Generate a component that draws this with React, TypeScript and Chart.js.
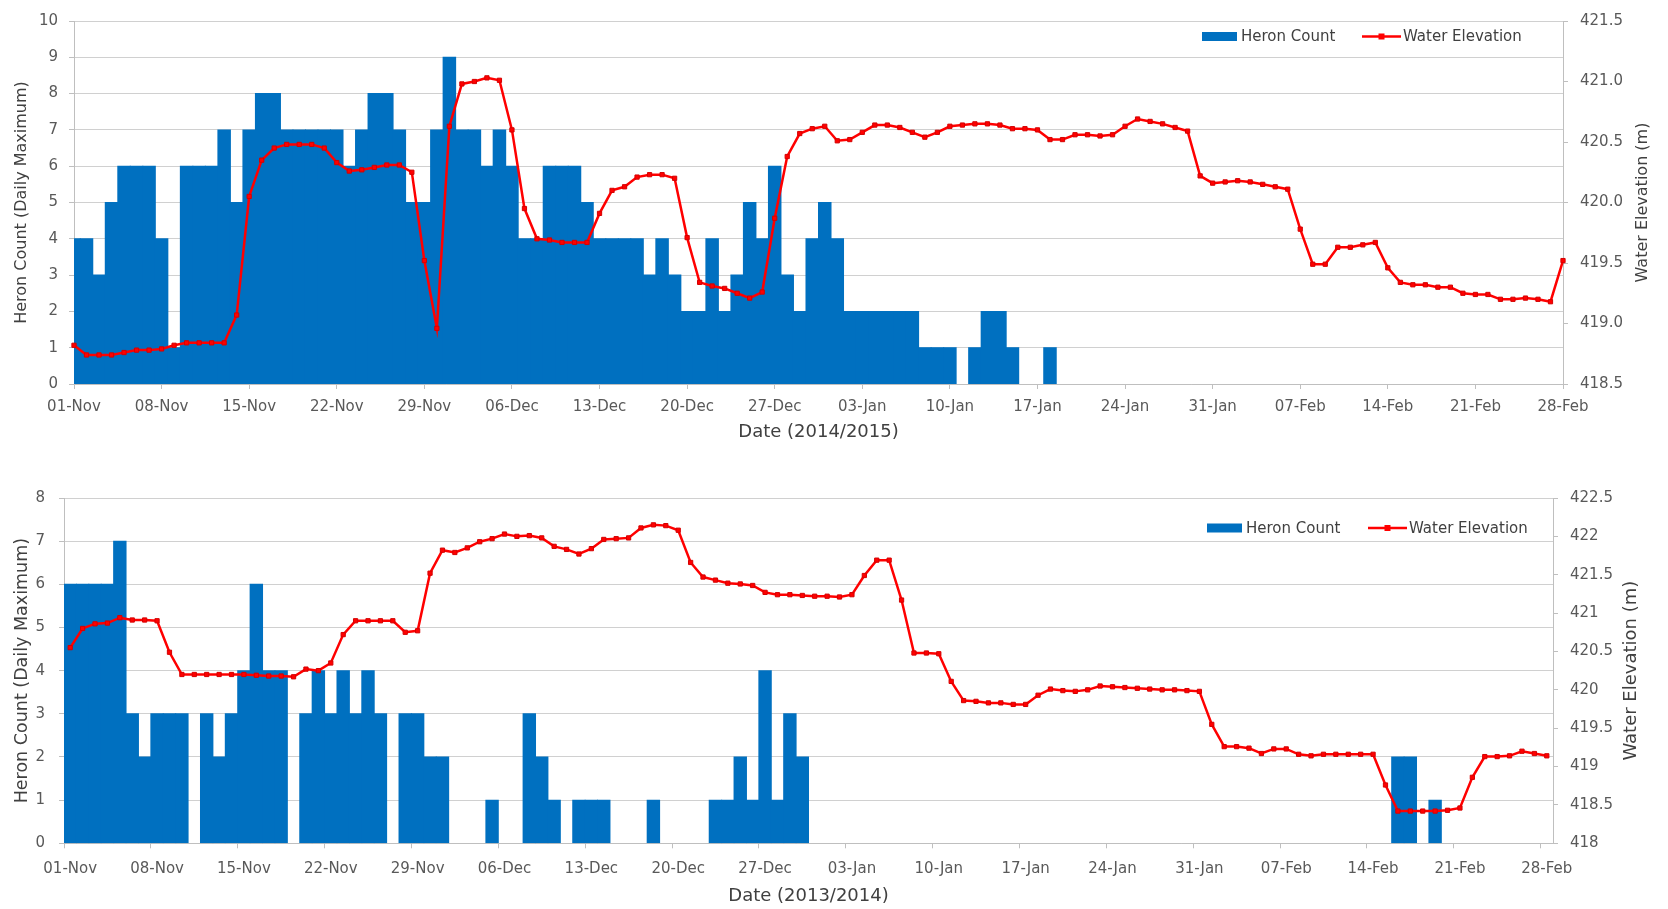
import React, { useEffect, useRef } from 'react';
import { Chart, registerables } from 'chart.js';

Chart.register(...registerables);

// ---------- DATA ----------
const monthNames = ['Nov', 'Dec', 'Jan', 'Feb'];
const monthLengths = [30, 31, 31, 28];
const dayLabels: string[] = [];
monthNames.forEach((m, mi) => {
  for (let d = 1; d <= monthLengths[mi]; d++) dayLabels.push(String(d).padStart(2, '0') + '-' + m);
});

// 2014/2015 season (top panel)
const heron2014: number[] = [
  4, 4, 3, 5, 6, 6, 6, 4, 1, 6,
  6, 6, 7, 5, 7, 8, 8, 7, 7, 7,
  7, 7, 6, 7, 8, 8, 7, 5, 5, 7,
  9, 7, 7, 6, 7, 6, 4, 4, 6, 6,
  6, 5, 4, 4, 4, 4, 3, 4, 3, 2,
  2, 4, 2, 3, 5, 4, 6, 3, 2, 4,
  5, 4, 2, 2, 2, 2, 2, 2, 1, 1,
  1, 0, 1, 2, 2, 1, 0, 0, 1, 0,
  0, 0, 0, 0, 0, 0, 0, 0, 0, 0,
  0, 0, 0, 0, 0, 0, 0, 0, 0, 0,
  0, 0, 0, 0, 0, 0, 0, 0, 0, 0,
  0, 0, 0, 0, 0, 0, 0, 0, 0, 0,
];
const elev2014: number[] = [
  418.82, 418.74, 418.74, 418.74, 418.76, 418.78, 418.78, 418.79, 418.82, 418.84,
  418.84, 418.84, 418.84, 419.07, 420.05, 420.35, 420.45, 420.48, 420.48, 420.48,
  420.45, 420.33, 420.26, 420.27, 420.29, 420.31, 420.31, 420.25, 419.52, 418.96,
  420.63, 420.98, 421.0, 421.03, 421.01, 420.6, 419.95, 419.7, 419.69, 419.67,
  419.67, 419.67, 419.91, 420.1, 420.13, 420.21, 420.23, 420.23, 420.2, 419.71,
  419.34, 419.31, 419.29, 419.25, 419.21, 419.26, 419.87, 420.38, 420.57, 420.61,
  420.63, 420.51, 420.52, 420.58, 420.64, 420.64, 420.62, 420.58, 420.54, 420.58,
  420.63, 420.64, 420.65, 420.65, 420.64, 420.61, 420.61, 420.6, 420.52, 420.52,
  420.56, 420.56, 420.55, 420.56, 420.63, 420.69, 420.67, 420.65, 420.62, 420.59,
  420.22, 420.16, 420.17, 420.18, 420.17, 420.15, 420.13, 420.11, 419.78, 419.49,
  419.49, 419.63, 419.63, 419.65, 419.67, 419.46, 419.34, 419.32, 419.32, 419.3,
  419.3, 419.25, 419.24, 419.24, 419.2, 419.2, 419.21, 419.2, 419.18, 419.52,
];

// 2013/2014 season (bottom panel)
const heron2013: number[] = [
  6, 6, 6, 6, 7, 3, 2, 3, 3, 3,
  0, 3, 2, 3, 4, 6, 4, 4, 0, 3,
  4, 3, 4, 3, 4, 3, 0, 3, 3, 2,
  2, 0, 0, 0, 1, 0, 0, 3, 2, 1,
  0, 1, 1, 1, 0, 0, 0, 1, 0, 0,
  0, 0, 1, 1, 2, 1, 4, 1, 3, 2,
  0, 0, 0, 0, 0, 0, 0, 0, 0, 0,
  0, 0, 0, 0, 0, 0, 0, 0, 0, 0,
  0, 0, 0, 0, 0, 0, 0, 0, 0, 0,
  0, 0, 0, 0, 0, 0, 0, 0, 0, 0,
  0, 0, 0, 0, 0, 0, 0, 2, 2, 0,
  1, 0, 0, 0, 0, 0, 0, 0, 0, 0,
];
const elev2013: number[] = [
  420.55, 420.8, 420.86, 420.87, 420.94, 420.91, 420.91, 420.9, 420.49, 420.2,
  420.2, 420.2, 420.2, 420.2, 420.2, 420.19, 420.18, 420.18, 420.17, 420.27,
  420.25, 420.35, 420.72, 420.9, 420.9, 420.9, 420.9, 420.75, 420.77, 421.52,
  421.82, 421.79, 421.85, 421.93, 421.97, 422.03, 422.0, 422.01, 421.98, 421.87,
  421.83, 421.77, 421.84, 421.96, 421.97, 421.98, 422.11, 422.15, 422.14, 422.08,
  421.66, 421.47, 421.43, 421.39, 421.38, 421.36, 421.27, 421.24, 421.24, 421.23,
  421.22, 421.22, 421.21, 421.24, 421.49, 421.69, 421.69, 421.17, 420.48, 420.48,
  420.47, 420.11, 419.86, 419.85, 419.83, 419.83, 419.81, 419.81, 419.93, 420.01,
  419.99, 419.98, 420.0, 420.05, 420.04, 420.03, 420.02, 420.01, 420.0, 420.0,
  419.99, 419.98, 419.55, 419.26, 419.26, 419.24, 419.17, 419.23, 419.23, 419.16,
  419.14, 419.16, 419.16, 419.16, 419.16, 419.16, 418.76, 418.42, 418.42, 418.42,
  418.42, 418.43, 418.46, 418.86, 419.13, 419.13, 419.14, 419.2, 419.17, 419.14,
];

// ---------- STYLE ----------
const FONT = "'DejaVu Sans', 'Liberation Sans', sans-serif";
const BAR_COLOR = '#0070C0';
const LINE_COLOR = '#FF0000';
const GRID = '#d0d0d0';
const AXIS = '#bfbfbf';
const TICK_TEXT = '#595959';
const TITLE_TEXT = '#404040';
const RIGHT_TITLE = 'Water Elevation (m)';

// legend inside the plot area + right axis title reading bottom-to-top
const panelExtras = {
  id: 'panelExtras',
  afterDraw(chart: any, _args: any, opts: any) {
    const { ctx } = chart;
    const ds = chart.data.datasets;
    const barLabel = ds.find((d: any) => d.type === 'bar').label;
    const lineLabel = ds.find((d: any) => d.type === 'line').label;
    const { heronX, lineX, y, rightTitleX, rightTitleSize } = opts;
    ctx.save();
    ctx.font = `15px ${FONT}`;
    ctx.textBaseline = 'middle';
    ctx.textAlign = 'left';
    ctx.fillStyle = BAR_COLOR;
    ctx.fillRect(heronX, y - 4.5, 35, 9);
    ctx.fillStyle = TITLE_TEXT;
    ctx.fillText(barLabel, heronX + 39, y + 1);
    ctx.strokeStyle = LINE_COLOR;
    ctx.lineWidth = 2.5;
    ctx.beginPath();
    ctx.moveTo(lineX, y);
    ctx.lineTo(lineX + 39, y);
    ctx.stroke();
    ctx.fillStyle = LINE_COLOR;
    ctx.fillRect(lineX + 16.5, y - 3, 6, 6);
    ctx.fillStyle = TITLE_TEXT;
    ctx.fillText(lineLabel, lineX + 41, y + 1);

    const area = chart.chartArea;
    ctx.translate(rightTitleX, (area.top + area.bottom) / 2);
    ctx.rotate(-Math.PI / 2);
    ctx.font = `${rightTitleSize}px ${FONT}`;
    ctx.textAlign = 'center';
    ctx.fillStyle = TITLE_TEXT;
    ctx.fillText(RIGHT_TITLE, 0, 0);
    ctx.restore();
  },
};

type PanelSpec = {
  heron: number[];
  elev: number[];
  xTitle: string;
  offset: boolean;
  leftMax: number;
  rightMin: number;
  rightMax: number;
  rightFmt: (v: number) => string;
  padTop: number;
  leftWidth: number;
  rightWidth: number;
  xHeight: number;
  xTickPad: number;
  yTickPad: number;
  leftTitleSize: number;
  leftTitlePad: number;
  xTitlePad: number;
  extras: { heronX: number; lineX: number; y: number; rightTitleX: number; rightTitleSize: number };
};

function makeConfig(p: PanelSpec): any {
  return {
    type: 'bar',
    data: {
      labels: dayLabels,
      datasets: [
        {
          type: 'line',
          label: 'Water Elevation',
          data: p.elev,
          yAxisID: 'y1',
          borderColor: LINE_COLOR,
          backgroundColor: LINE_COLOR,
          borderWidth: 2.5,
          pointStyle: 'rect',
          pointRadius: 3,
          pointBorderWidth: 1,
          pointBackgroundColor: LINE_COLOR,
          pointBorderColor: '#d40000',
          tension: 0,
          order: 0,
          clip: false,
        },
        {
          type: 'bar',
          label: 'Heron Count',
          data: p.heron,
          yAxisID: 'y',
          backgroundColor: (c: any) => (c.raw ? BAR_COLOR : 'rgba(0,0,0,0)'),
          borderWidth: 0,
          barPercentage: 1,
          categoryPercentage: 1,
          inflateAmount: (c: any) => (c.raw ? 0.5 : 0),
          order: 1,
        },
      ],
    },
    options: {
      responsive: false,
      animation: false,
      devicePixelRatio: 1,
      layout: { padding: { top: p.padTop, left: 0, right: 0, bottom: 0 } },
      plugins: {
        legend: { display: false },
        tooltip: { enabled: false },
        panelExtras: p.extras,
      },
      scales: {
        x: {
          type: 'category',
          offset: p.offset,
          grid: {
            offset: p.offset,
            drawOnChartArea: false,
            drawTicks: true,
            tickLength: 5,
            tickColor: (c: any) => (c.index % 7 === 0 ? AXIS : 'rgba(0,0,0,0)'),
          },
          border: { display: true, color: AXIS, width: 1 },
          ticks: {
            autoSkip: false,
            maxRotation: 0,
            minRotation: 0,
            padding: p.xTickPad,
            color: TICK_TEXT,
            font: { family: FONT, size: 15 },
            callback: (_v: any, i: number) => (i % 7 === 0 ? dayLabels[i] : ''),
          },
          title: {
            display: true,
            text: p.xTitle,
            color: TITLE_TEXT,
            font: { family: FONT, size: 18 },
            padding: { top: 0, bottom: p.xTitlePad },
          },
          afterFit: (s: any) => {
            s.height = p.xHeight;
          },
        },
        y: {
          position: 'left',
          min: 0,
          max: p.leftMax,
          grid: { color: GRID, lineWidth: 1, tickLength: 5, tickColor: AXIS },
          border: { display: true, color: AXIS },
          ticks: {
            stepSize: 1,
            padding: p.yTickPad,
            color: TICK_TEXT,
            font: { family: FONT, size: 15 },
          },
          title: {
            display: true,
            text: 'Heron Count (Daily Maximum)',
            color: TITLE_TEXT,
            font: { family: FONT, size: p.leftTitleSize },
            padding: { top: p.leftTitlePad, bottom: 0 },
          },
          afterFit: (s: any) => {
            s.width = p.leftWidth;
          },
        },
        y1: {
          position: 'right',
          min: p.rightMin,
          max: p.rightMax,
          grid: { drawOnChartArea: false, tickLength: 5, tickColor: AXIS },
          border: { display: true, color: AXIS },
          ticks: {
            stepSize: 0.5,
            padding: 12,
            color: TICK_TEXT,
            font: { family: FONT, size: 15 },
            callback: (v: any) => p.rightFmt(Number(v)),
          },
          title: { display: false },
          afterFit: (s: any) => {
            s.width = p.rightWidth;
          },
        },
      },
    },
    plugins: [panelExtras],
  };
}

const topSpec: PanelSpec = {
  heron: heron2014,
  elev: elev2014,
  xTitle: 'Date (2014/2015)',
  offset: false,
  leftMax: 10,
  rightMin: 418.5,
  rightMax: 421.5,
  rightFmt: (v) => v.toFixed(1),
  padTop: 15,
  leftWidth: 74,
  rightWidth: 105,
  xHeight: 76,
  xTickPad: 9,
  yTickPad: 11,
  leftTitleSize: 16,
  leftTitlePad: 12.4,
  xTitlePad: 16.5,
  extras: { heronX: 1202, lineX: 1362, y: 36.5, rightTitleX: 1643, rightTitleSize: 16 },
};

const bottomSpec: PanelSpec = {
  heron: heron2013,
  elev: elev2013,
  xTitle: 'Date (2013/2014)',
  offset: true,
  leftMax: 8,
  rightMin: 418,
  rightMax: 422.5,
  rightFmt: (v) => String(v),
  padTop: 38,
  leftWidth: 64,
  rightWidth: 115,
  xHeight: 65.7,
  xTickPad: 12,
  yTickPad: 14,
  leftTitleSize: 17.5,
  leftTitlePad: 12,
  xTitlePad: 1.5,
  extras: { heronX: 1207, lineX: 1368, y: 68, rightTitleX: 1631, rightTitleSize: 18 },
};

function Panel({ spec, top, height }: { spec: PanelSpec; top: number; height: number }) {
  const ref = useRef<HTMLCanvasElement | null>(null);
  useEffect(() => {
    if (!ref.current) return;
    const chart = new Chart(ref.current, makeConfig(spec));
    return () => chart.destroy();
  }, [spec]);
  return (
    <canvas
      ref={ref}
      width={1668}
      height={height}
      style={{ position: 'absolute', left: 0, top, width: 1668, height }}
    />
  );
}

export default function App() {
  return (
    <div
      style={{
        position: 'absolute',
        left: 0,
        top: 0,
        width: 1668,
        height: 909,
        background: '#ffffff',
        overflow: 'hidden',
      }}
    >
      <Panel spec={topSpec} top={0} height={460} />
      <Panel spec={bottomSpec} top={460} height={449} />
    </div>
  );
}
